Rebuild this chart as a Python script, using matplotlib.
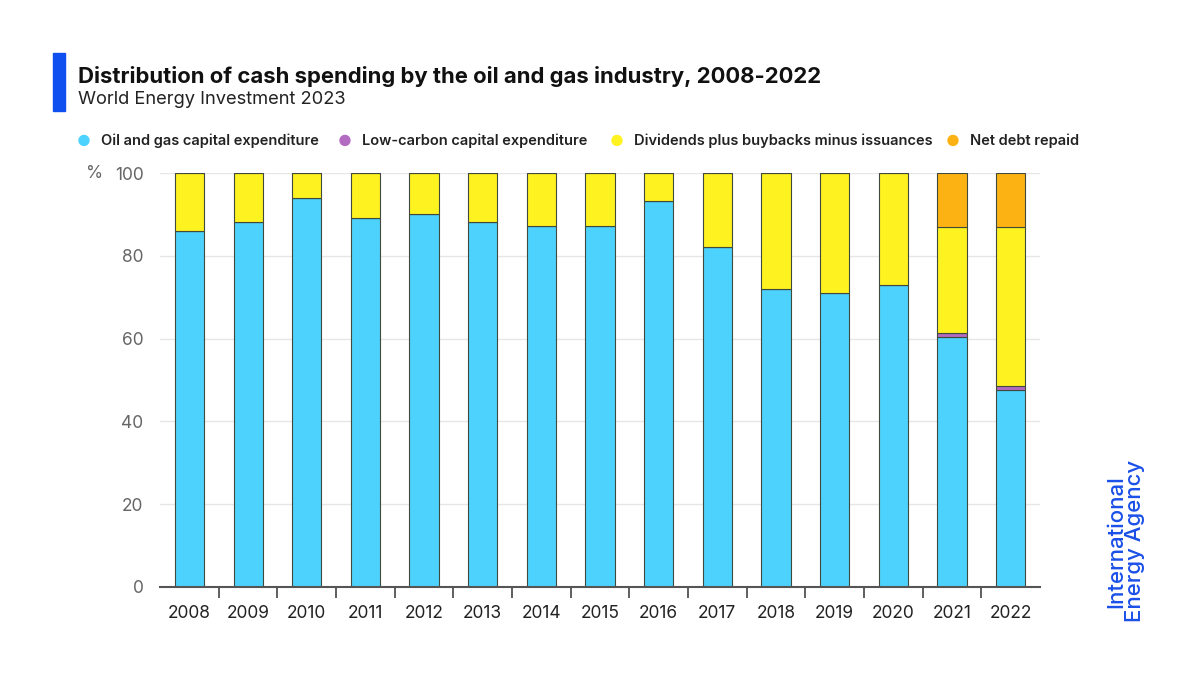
import numpy as np
import matplotlib
matplotlib.use("Agg")
from matplotlib import pyplot as plt

plt.rcParams['font.family'] = ['Inter', 'DejaVu Sans']

years = ["2008", "2009", "2010", "2011", "2012", "2013", "2014", "2015",
         "2016", "2017", "2018", "2019", "2020", "2021", "2022"]
oil_gas_capex = [86.0, 88.2, 94.0, 89.1, 90.1, 88.2, 87.2, 87.2,
                 93.2, 82.1, 72.0, 71.0, 72.9, 60.5, 47.5]
low_carbon_capex = [0, 0, 0, 0, 0, 0, 0, 0, 0, 0, 0, 0, 0, 0.9, 1.1]
net_debt_repaid = [0, 0, 0, 0, 0, 0, 0, 0, 0, 0, 0, 0, 0, 13.0, 13.0]
# dividends fill the rest up to 100
dividends = [100 - a - b - c for a, b, c in zip(oil_gas_capex, low_carbon_capex, net_debt_repaid)]

labels = ["Oil and gas capital expenditure", "Low-carbon capital expenditure",
          "Dividends plus buybacks minus issuances", "Net debt repaid"]
colors = ["#4dd2fd", "#b36bc2", "#fff221", "#fdb214"]

fig = plt.figure(figsize=(12, 6.75), dpi=100)
ax = fig.add_axes([0.1335, 0.1304, 0.733, 0.6133])

x = np.arange(len(years))
bottom = np.zeros(len(years))
for vals, col, lab in zip([oil_gas_capex, low_carbon_capex, dividends, net_debt_repaid], colors, labels):
    vals = np.array(vals)
    ax.bar(x, vals, 0.5, bottom=bottom, color=col, edgecolor="#3f4a3c", linewidth=0.8,
           label=lab, zorder=3)
    bottom += vals

ax.set_xlim(-0.5, len(years) - 0.5)
ax.set_ylim(0, 100)
ax.set_yticks([0, 20, 40, 60, 80, 100])
ax.set_yticklabels(["0", "20", "40", "60", "80", "100"])
ax.yaxis.grid(True, color="#e6e6e6", linewidth=1, zorder=0)
ax.set_xticks(x)
ax.set_xticklabels(years)
ax.set_xticks(np.arange(0.5, len(years) - 0.5), minor=True)
ax.tick_params(axis="x", which="major", length=0, pad=13, labelsize=12.5, labelcolor="#222222")
ax.tick_params(axis="x", which="minor", length=8, width=1.2, color="#444444")
ax.tick_params(axis="y", length=0, pad=12, labelsize=12.5, labelcolor="#666666")
for s in ["top", "right", "left"]:
    ax.spines[s].set_visible(False)
ax.spines["bottom"].set_color("#555555")
ax.spines["bottom"].set_linewidth(1.5)
ax.spines["bottom"].set_zorder(4)

fig.text(0.079, 0.7437, "%", fontsize=12.5, color="#666666", va="center", ha="center")

# header
fig.patches.append(plt.Rectangle((0.044, 0.836), 0.0105, 0.086, transform=fig.transFigure,
                                 color="#0f4ff0", zorder=5))
fig.text(0.065, 0.887, "Distribution of cash spending by the oil and gas industry, 2008-2022",
         fontsize=15.9, fontweight="bold", color="#111111", va="center")
fig.text(0.065, 0.852, "World Energy Investment 2023", fontsize=13.2, color="#222222", va="center")

# legend
legend_x = [0.070, 0.287, 0.514, 0.794]
for lx, col, lab in zip(legend_x, colors, labels):
    fig.text(lx, 0.791, "\u25cf", color=col, fontsize=11, va="center", ha="center")
    fig.text(lx + 0.0145, 0.791, lab, fontsize=10.5, fontweight="semibold", color="#222222", va="center")

fig.text(0.938, 0.078, "International\nEnergy Agency", rotation=90, fontsize=16,
         fontweight="medium", color="#1a50e8", ha="center", va="bottom", linespacing=0.95)

fig.savefig("out.png", dpi=100, facecolor="white")
